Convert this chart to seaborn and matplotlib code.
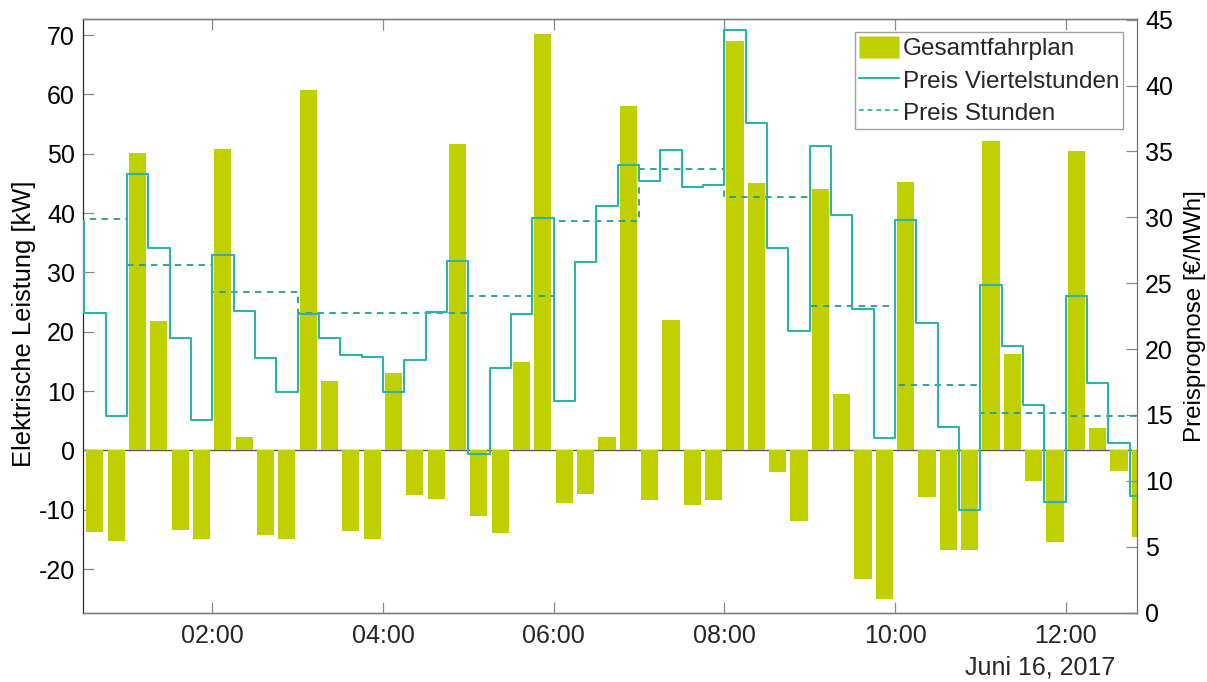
import numpy as np
import pandas as pd
import matplotlib
matplotlib.use("Agg")
import matplotlib.pyplot as plt
from matplotlib.patches import Patch
from matplotlib.lines import Line2D
import seaborn as sns

# ---------------- data ----------------
# Gesamtfahrplan [kW], one bar per quarter hour starting 00:30
fahrplan = [-13.7, -15.2, 50.2, 21.8, -13.4, -14.9, 50.8, 2.2, -14.2, -14.95,
            60.7, 11.7, -13.5, -14.95, 13.1, -7.5, -8.2, 51.6, -11.0, -13.9,
            14.9, 70.2, -8.8, -7.4, 2.3, 58.1, -8.4, 22.0, -9.2, -8.3,
            69.0, 45.0, -3.6, -11.8, 44.0, 9.5, -21.6, -25.1, 45.2, -7.8,
            -16.8, -16.8, 52.1, 16.2, -5.1, -15.4, 50.5, 3.8, -3.4, -14.6]

# Preis Viertelstunden [EUR/MWh], quarter hours starting 00:15
preis_viertel = [29.7, 22.73, 14.88, 33.31, 27.67, 20.83, 14.58, 27.14, 22.88, 19.29,
                 16.74, 22.68, 20.8, 19.52, 19.37, 16.74, 19.2, 22.78, 26.65, 12.05,
                 18.55, 22.65, 29.92, 16.07, 26.6, 30.83, 33.94, 32.73, 35.11, 32.27,
                 32.42, 44.19, 37.13, 27.69, 21.37, 35.44, 30.2, 23.06, 13.21, 29.79,
                 21.97, 14.1, 7.77, 24.83, 20.2, 15.75, 8.35, 24.0, 17.42, 12.86, 8.81]

# Preis Stunden [EUR/MWh], hours starting 00:00
preis_stunden = [29.9, 26.35, 24.3, 22.7, 22.7, 24.0, 29.72, 33.69, 31.56, 23.24,
                 17.29, 15.16, 14.93]

xtick_hours = [2, 4, 6, 8, 10, 12]
xtick_labels = ["02:00", "04:00", "06:00", "08:00", "10:00", "12:00"]
left_ticks = [-20, -10, 0, 10, 20, 30, 40, 50, 60, 70]
right_ticks = [0, 5, 10, 15, 20, 25, 30, 35, 40, 45]
date_label = "Juni 16, 2017"

# time grids (hours)
t_bars = 0.5 + 0.25 * np.arange(len(fahrplan)) + 0.125        # bar centres
t_q = 0.25 + 0.25 * np.arange(len(preis_viertel) + 1)          # quarter-hour edges
t_h = np.arange(len(preis_stunden) + 1, dtype=float)           # hour edges

df_bar = pd.DataFrame({"t": t_bars, "kW": fahrplan})
df_q = pd.DataFrame({"t": t_q, "p": preis_viertel + [preis_viertel[-1]]})
df_h = pd.DataFrame({"t": t_h, "p": preis_stunden + [preis_stunden[-1]]})

# ---------------- style ----------------
sns.set_style("white")
plt.rcParams["font.family"] = ["Liberation Sans", "DejaVu Sans"]
plt.rcParams["font.size"] = 18
plt.rcParams["axes.unicode_minus"] = False

bar_color = "#BFCF00"
q_color = "#2DB2AC"
h_color = "#2A9A96"

W, H = 1207, 682
fig = plt.figure(figsize=(W / 100, H / 100), dpi=100)
x0, x1, y0, y1 = 83.3, 1136.7, 19.0, 612.5
ax = fig.add_axes([x0 / W, 1 - y1 / H, (x1 - x0) / W, (y1 - y0) / H])

ax.axhline(0, color="#5a5a5a", lw=1.0, zorder=0.5)
sns.barplot(data=df_bar, x="t", y="kW", native_scale=True, width=0.8,
            color=bar_color, saturation=1, errorbar=None, linewidth=0,
            ax=ax, zorder=1)

ax2 = ax.twinx()
sns.lineplot(data=df_q, x="t", y="p", drawstyle="steps-post", color=q_color,
             lw=1.5, ax=ax2, zorder=3)
sns.lineplot(data=df_h, x="t", y="p", drawstyle="steps-post", color=h_color,
             lw=1.3, linestyle=(0, (3.6, 3.0)), ax=ax2, zorder=2)

ax.set_xlim(0.489, 12.832)
ax2.set_xlim(0.489, 12.832)
ax.set_ylim(-27.3, 72.7)
ax2.set_ylim(0, 45.05)

ax.set_xticks(xtick_hours)
ax.set_xticklabels(xtick_labels)
ax.set_yticks(left_ticks)
ax2.set_yticks(right_ticks)

ax.set_xlabel("")
ax.set_ylabel("Elektrische Leistung [kW]", labelpad=2, color="#000000",
              fontsize=18.4)
ax.yaxis.label.set_y(0.487)
ax2.set_ylabel("Preisprognose [€/MWh]", labelpad=8, color="#000000",
               fontsize=17.4)

tick_grey = "#8a8a8a"
ax.tick_params(axis="x", direction="in", length=8, width=0.9, color=tick_grey,
               top=True, bottom=True, pad=8, labelcolor="#262626", labelsize=18)
ax.tick_params(axis="y", direction="in", length=8, width=0.9, color=tick_grey,
               left=True, right=False, pad=6, labelcolor="#000000", labelsize=18)
ax2.tick_params(axis="y", direction="in", length=8, width=0.9, color=tick_grey,
                right=True, left=False, pad=6, labelcolor="#000000", labelsize=18)

for a in (ax, ax2):
    for side in ("top", "bottom"):
        a.spines[side].set_color("#808080")
        a.spines[side].set_linewidth(1.0)
    a.spines["left"].set_color("#262626")
    a.spines["right"].set_color("#707070")
    a.grid(False)

handles = [Patch(facecolor=bar_color, edgecolor="#dce87a", lw=0.8),
           Line2D([], [], color=q_color, lw=1.5),
           Line2D([], [], color=q_color, lw=1.3, linestyle=(0, (2.6, 2.2)))]
labels = ["Gesamtfahrplan", "Preis Viertelstunden", "Preis Stunden"]
leg = ax2.legend(handles, labels, loc="upper right",
                 bbox_to_anchor=(1123.3 / W, 1 - 32.3 / H),
                 bbox_transform=fig.transFigure, borderaxespad=0,
                 fontsize=17.5, frameon=True, fancybox=False, framealpha=1,
                 edgecolor="#a0a0a0", borderpad=0.15, labelspacing=0.34,
                 handlelength=1.65, handleheight=1.0, handletextpad=0.18)
leg.get_frame().set_linewidth(1.0)

fig.text(1115 / W, 1 - 668 / H, date_label, ha="right", va="center",
         fontsize=18, color="#262626")

fig.savefig("out.png", dpi=100)
